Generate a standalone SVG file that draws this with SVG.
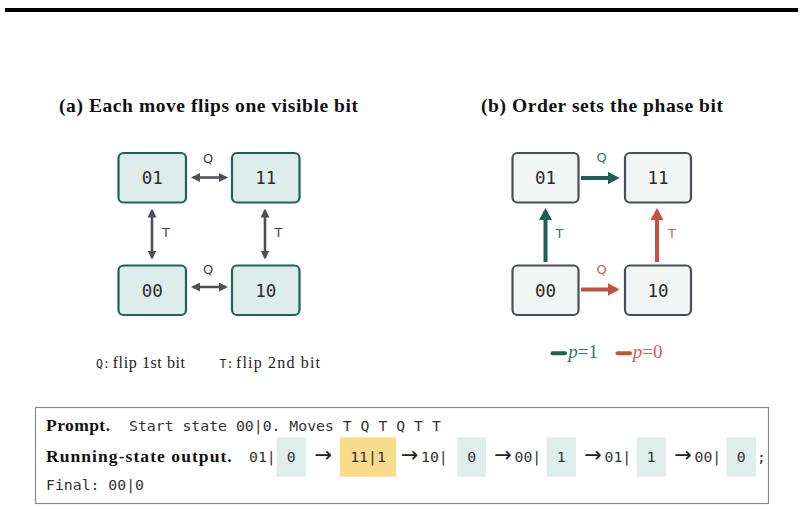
<svg xmlns="http://www.w3.org/2000/svg" width="804" height="510" viewBox="0 0 804 510">
<defs>
<style>
.title{font-family:"Liberation Serif","DejaVu Serif",serif;font-weight:bold;font-size:19.5px;fill:#111}
.na rect{fill:#deede9;stroke:#1f6356;stroke-width:2.2}
.nb rect{fill:#f3f5f4;stroke:#4b4e55;stroke-width:2.2}
.nt{font-family:"DejaVu Sans Mono",monospace;font-size:17.5px;fill:#2a2a2a;text-anchor:middle}
.lab{font-family:"DejaVu Sans","Inter",sans-serif;font-size:13px;text-anchor:middle}
.ga{stroke:#4d4f55;stroke-width:2.6;fill:none}
.ta{stroke:#1c5f53;stroke-width:4;fill:none}
.ra{stroke:#c8503f;stroke-width:4;fill:none}
.serif{font-family:"Liberation Serif","DejaVu Serif",serif;font-size:16px;fill:#222}
.mono{font-family:"DejaVu Sans Mono",monospace;font-size:14.8px;fill:#333}
.bold{font-family:"Liberation Serif","DejaVu Serif",serif;font-weight:bold;font-size:17.5px;fill:#111}
.arr{font-family:"DejaVu Sans","Liberation Sans",sans-serif;font-size:21px;fill:#222;text-anchor:middle}
.hl{fill:#dfeeea}
.hy{fill:#f8dc8c}
</style>
<marker id="mg" markerUnits="userSpaceOnUse" viewBox="0 0 9 9" refX="7" refY="4.5" markerWidth="9" markerHeight="9" orient="auto-start-reverse"><path d="M0,0 L9,4.5 L0,9 z" fill="#4d4f55"/></marker>
<marker id="mt" markerUnits="userSpaceOnUse" viewBox="0 0 12 13" refX="9" refY="6.5" markerWidth="12" markerHeight="13" orient="auto"><path d="M0,0 L12,6.5 L0,13 z" fill="#1c5f53"/></marker>
<marker id="mr" markerUnits="userSpaceOnUse" viewBox="0 0 12 13" refX="9" refY="6.5" markerWidth="12" markerHeight="13" orient="auto"><path d="M0,0 L12,6.5 L0,13 z" fill="#c8503f"/></marker>
</defs>
<rect x="0" y="0" width="804" height="510" fill="#ffffff"/>
<rect x="5" y="8" width="793" height="4" fill="#000"/>

<text class="title" x="59" y="112" textLength="299">(a) Each move flips one visible bit</text>
<text class="title" x="481" y="112" textLength="242">(b) Order sets the phase bit</text>

<g id="connectors">
<line class="ga" x1="193" y1="177.5" x2="226" y2="177.5" marker-start="url(#mg)" marker-end="url(#mg)"/>
<line class="ga" x1="193" y1="287" x2="226" y2="287" marker-start="url(#mg)" marker-end="url(#mg)"/>
<line class="ga" x1="152" y1="210.5" x2="152" y2="257.5" marker-start="url(#mg)" marker-end="url(#mg)"/>
<line class="ga" x1="265" y1="210.5" x2="265" y2="257.5" marker-start="url(#mg)" marker-end="url(#mg)"/>
<text class="lab" x="208" y="163" fill="#444">Q</text>
<text class="lab" x="208" y="274" fill="#444">Q</text>
<text class="lab" x="166" y="237" fill="#444">T</text>
<text class="lab" x="278.5" y="237" fill="#444">T</text>

<line class="ta" x1="581" y1="178" x2="616.5" y2="178" marker-end="url(#mt)"/>
<line class="ta" x1="545.5" y1="262" x2="545.5" y2="211" marker-end="url(#mt)"/>
<line class="ra" x1="581" y1="289.5" x2="616.5" y2="289.5" marker-end="url(#mr)"/>
<line class="ra" x1="657" y1="262" x2="657" y2="211" marker-end="url(#mr)"/>
<text class="lab" x="601.5" y="162" fill="#2a7a6b">Q</text>
<text class="lab" x="559.5" y="238" fill="#2a7a6b">T</text>
<text class="lab" x="601.5" y="274" fill="#d0604f">Q</text>
<text class="lab" x="672" y="238" fill="#d0604f">T</text>
</g>

<g id="a01" class="na"><rect x="118.5" y="153" width="67.5" height="49.5" rx="5"/><text class="nt" x="152.2" y="184">01</text></g>
<g id="a11" class="na"><rect x="232" y="153" width="67.5" height="49.5" rx="5"/><text class="nt" x="265.7" y="184">11</text></g>
<g id="a00" class="na"><rect x="118.5" y="265.5" width="67.5" height="49.5" rx="5"/><text class="nt" x="152.2" y="296.5">00</text></g>
<g id="a10" class="na"><rect x="232" y="265.5" width="67.5" height="49.5" rx="5"/><text class="nt" x="265.7" y="296.5">10</text></g>

<g id="b01" class="nb"><rect x="512.5" y="153" width="66" height="49.5" rx="5"/><text class="nt" x="545.5" y="184">01</text></g>
<g id="b11" class="nb"><rect x="625" y="153" width="66" height="49.5" rx="5"/><text class="nt" x="658" y="184">11</text></g>
<g id="b00" class="nb"><rect x="512.5" y="265.5" width="66" height="49.5" rx="5"/><text class="nt" x="545.5" y="296.5">00</text></g>
<g id="b10" class="nb"><rect x="625" y="265.5" width="66" height="49.5" rx="5"/><text class="nt" x="658" y="296.5">10</text></g>

<g id="legend-a">
<text x="96" y="367.5" font-family="DejaVu Sans Mono, monospace" font-size="11.5" fill="#222">Q:</text>
<text class="serif" x="112.7" y="367.5" textLength="72.3">flip 1st bit</text>
<text x="219.5" y="367.5" font-family="DejaVu Sans Mono, monospace" font-size="11.5" fill="#222">T:</text>
<text class="serif" x="236" y="367.5" textLength="84">flip 2nd bit</text>
</g>
<g id="legend-b">
<line x1="552.5" y1="353.3" x2="565" y2="353.3" stroke="#1c5f53" stroke-width="4" stroke-linecap="round"/>
<text class="serif" x="568.3" y="358" style="fill:#2a7a6b;font-size:19px"><tspan font-style="italic">p</tspan>=1</text>
<line x1="617.5" y1="353.3" x2="630" y2="353.3" stroke="#c8503f" stroke-width="4" stroke-linecap="round"/>
<text class="serif" x="632.7" y="358" style="fill:#d0604f;font-size:19px"><tspan font-style="italic">p</tspan>=0</text>
</g>

<g id="output-box">
<rect x="35.5" y="407.5" width="733" height="96" fill="#fff" stroke="#8a8a8a" stroke-width="1.2"/>
<text class="bold" x="46" y="431" textLength="64">Prompt.</text>
<text class="mono" x="129" y="431">Start state 00|0. Moves T Q T Q T T</text>
<text class="bold" x="46" y="462" textLength="185.7">Running-state output.</text>
<rect class="hl" x="276.7" y="437.3" width="29.3" height="39.4"/>
<rect class="hy" x="340" y="437.3" width="56" height="39.4"/>
<rect class="hl" x="457.3" y="437.3" width="28.7" height="39.4"/>
<rect class="hl" x="546.7" y="437.3" width="29.3" height="39.4"/>
<rect class="hl" x="636.7" y="437.3" width="29.3" height="39.4"/>
<rect class="hl" x="726.7" y="437.3" width="29.3" height="39.4"/>
<text class="mono" x="249" y="462">01|</text>
<text class="mono" x="291.3" y="462" text-anchor="middle">0</text>
<text class="arr" x="323.3" y="462">→</text>
<text class="mono" x="368" y="462" text-anchor="middle">11|1</text>
<text class="arr" x="409.5" y="462">→</text>
<text class="mono" x="421" y="462">10|</text>
<text class="mono" x="471.7" y="462" text-anchor="middle">0</text>
<text class="arr" x="503" y="462">→</text>
<text class="mono" x="514.5" y="462">00|</text>
<text class="mono" x="561.3" y="462" text-anchor="middle">1</text>
<text class="arr" x="593" y="462">→</text>
<text class="mono" x="604.5" y="462">01|</text>
<text class="mono" x="651.3" y="462" text-anchor="middle">1</text>
<text class="arr" x="683" y="462">→</text>
<text class="mono" x="694.5" y="462">00|</text>
<text class="mono" x="741.3" y="462" text-anchor="middle">0</text>
<text class="mono" x="757" y="462">;</text>
<text class="mono" x="46" y="490">Final: 00|0</text>
</g>
</svg>
